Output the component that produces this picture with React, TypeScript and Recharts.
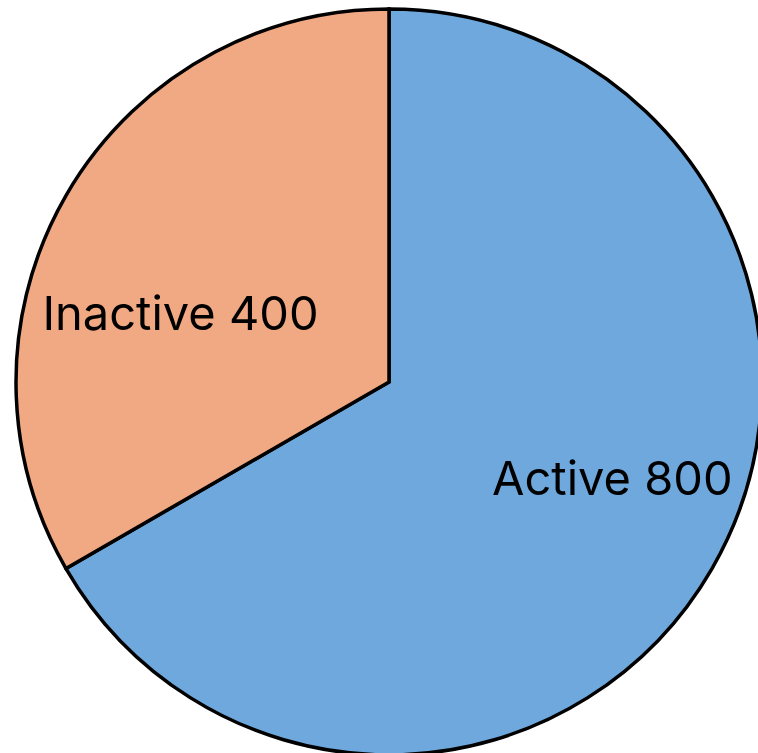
import { PieChart, Pie, Cell } from "recharts";

const names = ["Active", "Inactive"];
const counts = [800, 400];
const colors = ["#6FA8DC", "#F1A983"];

const data = names.map((name, i) => ({ name, value: counts[i] }));

const RADIAN = Math.PI / 180;

function renderLabel(props: any) {
  const { cx, cy, midAngle, outerRadius, name, value } = props;
  const r = outerRadius * 0.62;
  const a = (midAngle + 9) * RADIAN;
  // small nudge down/right to sit like the original labels
  const x = cx + r * Math.cos(a) + outerRadius * 0.02;
  const y = cy - r * Math.sin(a) + outerRadius * 0.035;
  return (
    <text
      x={x}
      y={y}
      fill="#000"
      textAnchor="middle"
      dominantBaseline="central"
      fontFamily="Inter, 'Open Sans', sans-serif"
      fontSize={47}
    >
      {name} {value}
    </text>
  );
}

export default function App() {
  return (
    <div style={{ position: "fixed", left: 0, top: 0 }}>
      <PieChart width={758} height={753} margin={{ top: 0, right: 0, bottom: 0, left: 0 }}>
        <Pie
          data={data}
          dataKey="value"
          nameKey="name"
          cx={389}
          cy={382}
          outerRadius={373}
          startAngle={90}
          endAngle={-270}
          stroke="#000"
          strokeWidth={3.5}
          label={renderLabel}
          labelLine={false}
          isAnimationActive={false}
        >
          {data.map((d, i) => (
            <Cell key={d.name} fill={colors[i]} />
          ))}
        </Pie>
      </PieChart>
    </div>
  );
}
